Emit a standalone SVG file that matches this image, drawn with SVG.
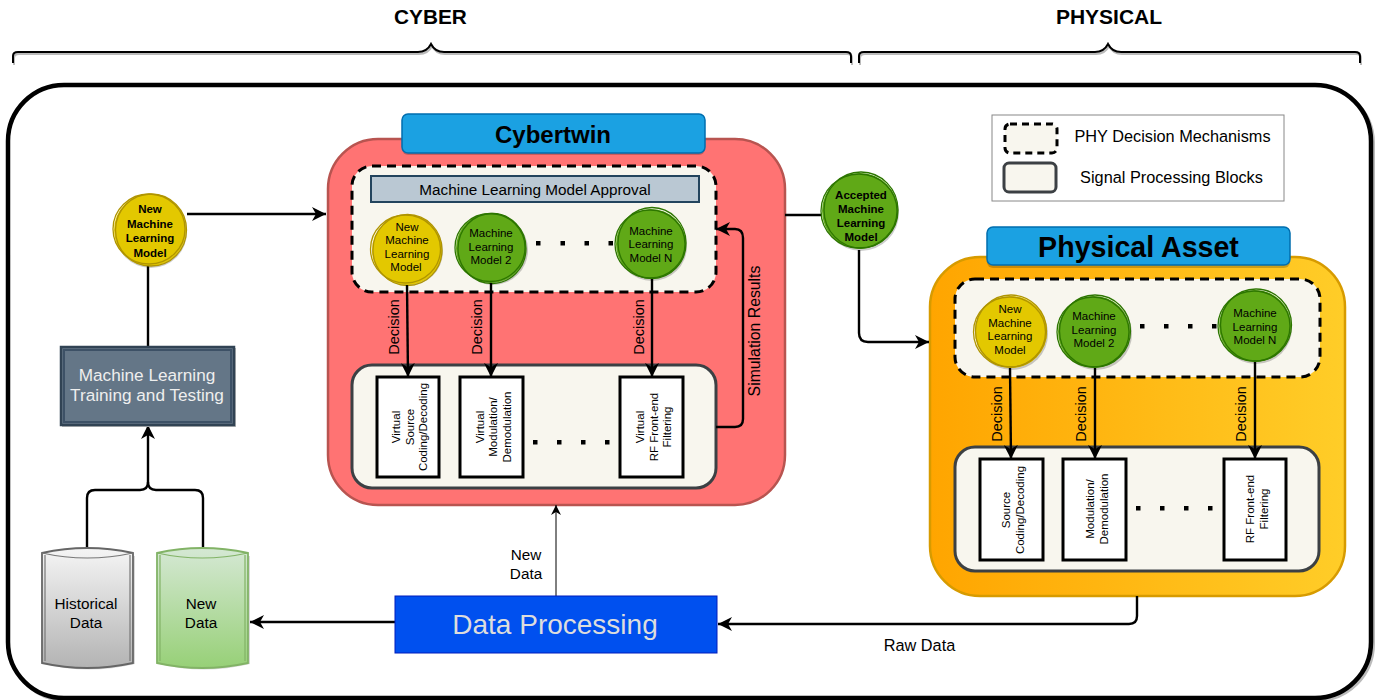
<svg xmlns="http://www.w3.org/2000/svg" width="1377" height="700" viewBox="0 0 1377 700">
<style>
text{font-family:"Liberation Sans",Arial,sans-serif;fill:#000;text-anchor:middle}
.ln{fill:none;stroke:#000;stroke-width:2.4;stroke-linejoin:round}
.ar{marker-end:url(#ah)}
.dash{fill:#f8f6ee;stroke:#000;stroke-width:3;stroke-dasharray:9 6}
.blk{fill:#f8f6ee;stroke:#3c4044;stroke-width:3}
.wb{fill:#fff;stroke:#000;stroke-width:3}
.tab{fill:#1ba1e2;stroke:#006eaf;stroke-width:1.5}
.sh{fill:#000;opacity:.2}
.y{fill:#e3c800}.ys{fill:none;stroke:#b09500;stroke-width:1.3}
.g{fill:#60a917}.gs{fill:none;stroke:#2d7600;stroke-width:1.3}
.t10{font-size:11.5px}.t14{font-size:14.5px}.t15{font-size:15.3px}.t16{font-size:16.3px}.t17{font-size:17.2px;fill:#eee}
.dot{fill:#000}
</style>
<defs>
<marker id="ah" markerUnits="userSpaceOnUse" markerWidth="16" markerHeight="14" refX="14" refY="7" orient="auto"><path d="M0 0L14 7L0 14L4 7Z" fill="#000"/></marker>
<marker id="as" markerUnits="userSpaceOnUse" markerWidth="12" markerHeight="10" refX="10" refY="5" orient="auto"><path d="M0 0L10 5L0 10L3 5Z" fill="#000"/></marker>
<linearGradient id="org" x1="0" x2="1" y1="0" y2="0"><stop offset="0" stop-color="#ffa500"/><stop offset="1" stop-color="#ffcd28"/></linearGradient>
<linearGradient id="gry" x1="0" x2="0" y1="0" y2="1"><stop offset="0" stop-color="#f5f5f5"/><stop offset="1" stop-color="#b3b3b3"/></linearGradient>
<linearGradient id="grn" x1="0" x2="0" y1="0" y2="1"><stop offset="0" stop-color="#d5e8d4"/><stop offset="1" stop-color="#97d077"/></linearGradient>
</defs>

<g id="braces" fill="none" stroke="#000" stroke-width="2">
<path d="M13 63V56Q13 52 18 52H418Q427 52 431 44Q435 52 444 52H846Q851 52 851 56V63" stroke="#bbb" transform="translate(1 2)"/>
<path d="M13 63V56Q13 52 18 52H418Q427 52 431 44Q435 52 444 52H846Q851 52 851 56V63"/>
<path d="M859 63V56Q859 52 864 52H1095Q1104 52 1108 44Q1112 52 1121 52H1355Q1360 52 1360 56V63" stroke="#bbb" transform="translate(1 2)"/>
<path d="M859 63V56Q859 52 864 52H1095Q1104 52 1108 44Q1112 52 1121 52H1355Q1360 52 1360 56V63"/>
</g>
<text x="430.500" y="24" font-size="20.800" font-weight="bold">CYBER</text>
<text x="1109" y="24" font-size="21" font-weight="bold">PHYSICAL</text>

<g id="frame">
<rect x="10" y="87" width="1363" height="613" rx="56" fill="none" stroke="#bbb" stroke-width="4"/>
<rect x="8" y="85" width="1363" height="613" rx="56" fill="#fff" stroke="#000" stroke-width="4.500"/>
</g>

<g id="cybertwin">
<rect x="328" y="139" width="457" height="366" rx="50" fill="#ff7373" stroke="#b85450" stroke-width="2.500"/>
<rect x="402" y="116" width="303" height="39" rx="6" class="sh"/>
<rect x="402" y="114" width="303" height="39" rx="6" class="tab"/>
<text x="553" y="143" font-size="24" font-weight="bold">Cybertwin</text>
</g>
<g id="phy-decision-cyber">
<rect x="352" y="166" width="364" height="126" rx="20" class="dash"/>
</g>
<g id="ml-approval">
<rect x="371" y="176" width="328" height="26" fill="#bac8d3" stroke="#23445d" stroke-width="2"/>
<text x="535" y="195" class="t15">Machine Learning Model Approval</text>
</g>
<g id="cyber-model-new">
<circle cx="408" cy="251" r="35" class="sh"/><circle cx="407" cy="250" r="35" class="y"/>
<ellipse cx="405.500" cy="249" rx="35" ry="34" class="ys"/><ellipse cx="407.500" cy="250" rx="34.500" ry="35.500" class="ys"/>
<text x="407" y="231" class="t10">New</text><text x="407" y="244" class="t10">Machine</text><text x="407" y="258" class="t10">Learning</text><text x="406" y="271" class="t10">Model</text>
</g>
<g id="cyber-model-2">
<circle cx="493" cy="250" r="35" class="sh"/><circle cx="491" cy="248" r="35" class="g"/>
<ellipse cx="490" cy="247.500" rx="35" ry="34" class="gs"/><ellipse cx="492" cy="248.500" rx="34" ry="35" class="gs"/>
<text x="491" y="237" class="t10">Machine</text><text x="491" y="251" class="t10">Learning</text><text x="491" y="264" class="t10">Model 2</text>
</g>
<g id="cyber-model-n">
<circle cx="652" cy="246" r="35" class="sh"/><circle cx="651" cy="244" r="35" class="g"/>
<ellipse cx="650" cy="244" rx="35" ry="34" class="gs"/><ellipse cx="652" cy="243" rx="34" ry="35.500" class="gs"/>
<text x="651" y="235" class="t10">Machine</text><text x="651" y="248" class="t10">Learning</text><text x="651" y="262" class="t10">Model N</text>
</g>
<g id="cyber-dots1" class="dot"><rect x="536" y="241" width="4.500" height="4.500"/><rect x="560.500" y="241" width="4.500" height="4.500"/><rect x="584.500" y="241" width="4.500" height="4.500"/><rect x="608.500" y="241" width="4.500" height="4.500"/></g>

<g id="cyber-blocks"><rect x="352" y="365" width="364" height="123" rx="20" class="blk"/></g>
<g id="v-source"><rect x="377" y="377" width="62" height="100" class="wb"/>
<g transform="translate(408 427) rotate(-90)" class="t10"><text y="-8">Virtual</text><text y="5.500">Source</text><text y="19">Coding/Decoding</text></g></g>
<g id="v-mod"><rect x="460" y="377" width="63" height="100" class="wb"/>
<g transform="translate(491 427) rotate(-90)" class="t10"><text y="-7.500">Virtual</text><text y="6">Modulation/</text><text y="20">Demodulation</text></g></g>
<g id="v-rf"><rect x="620" y="377" width="63" height="100" class="wb"/>
<g transform="translate(652 427) rotate(-90)" class="t10"><text y="-8">Virtual</text><text y="5.500">RF Front-end</text><text y="19">Filtering</text></g></g>
<g id="cyber-dots2" class="dot"><rect x="533" y="440" width="4.500" height="4.500"/><rect x="557" y="440" width="4.500" height="4.500"/><rect x="581" y="440" width="4.500" height="4.500"/><rect x="605" y="440" width="4.500" height="4.500"/></g>

<g id="physical">
<rect x="930" y="257" width="415" height="339" rx="50" fill="url(#org)" stroke="#d79b00" stroke-width="2.500"/>
<rect x="987" y="229" width="303" height="39" rx="6" class="sh"/>
<rect x="987" y="227" width="303" height="38" rx="6" class="tab"/>
<text x="1138.500" y="257" font-size="28.600" font-weight="bold">Physical Asset</text>
</g>
<g id="phy-decision"><rect x="955" y="279" width="365" height="98" rx="20" class="dash"/></g>
<g id="phy-model-new">
<circle cx="1012" cy="334" r="36" class="sh"/><circle cx="1011" cy="332" r="36" class="y"/>
<ellipse cx="1009.500" cy="332" rx="36" ry="35" class="ys"/><ellipse cx="1011" cy="331" rx="35.500" ry="36" class="ys"/>
<text x="1010" y="313" class="t10">New</text><text x="1010" y="327" class="t10">Machine</text><text x="1010" y="340" class="t10">Learning</text><text x="1010" y="354" class="t10">Model</text>
</g>
<g id="phy-model-2">
<circle cx="1096" cy="334" r="36" class="sh"/><circle cx="1094" cy="332" r="36" class="g"/>
<ellipse cx="1093" cy="332" rx="36" ry="35" class="gs"/><ellipse cx="1095" cy="331" rx="35.500" ry="36" class="gs"/>
<text x="1094" y="320" class="t10">Machine</text><text x="1094" y="334" class="t10">Learning</text><text x="1094" y="347" class="t10">Model 2</text>
</g>
<g id="phy-model-n">
<circle cx="1256" cy="328" r="36" class="sh"/><circle cx="1255" cy="326" r="36" class="g"/>
<ellipse cx="1254" cy="326" rx="36" ry="35" class="gs"/><ellipse cx="1256" cy="325" rx="35.500" ry="36" class="gs"/>
<text x="1255" y="317" class="t10">Machine</text><text x="1255" y="331" class="t10">Learning</text><text x="1255" y="344" class="t10">Model N</text>
</g>
<g id="phy-dots1" class="dot"><rect x="1140" y="324" width="4.500" height="4.500"/><rect x="1164" y="324" width="4.500" height="4.500"/><rect x="1188" y="324" width="4.500" height="4.500"/><rect x="1212" y="324" width="4.500" height="4.500"/></g>

<g id="phy-blocks"><rect x="955" y="447" width="364" height="124" rx="20" class="blk"/></g>
<g id="source"><rect x="980" y="459" width="63" height="101" class="wb"/>
<g transform="translate(1011 510) rotate(-90)" class="t10"><text y="-1">Source</text><text y="13">Coding/Decoding</text></g></g>
<g id="mod"><rect x="1063" y="459" width="63" height="101" class="wb"/>
<g transform="translate(1095 509) rotate(-90)" class="t10"><text y="-1">Modulation/</text><text y="13">Demodulation</text></g></g>
<g id="rf"><rect x="1224" y="459" width="62" height="101" class="wb"/>
<g transform="translate(1255 509) rotate(-90)" class="t10"><text y="-1">RF Front-end</text><text y="13">Filtering</text></g></g>
<g id="phy-dots2" class="dot"><rect x="1136" y="506" width="4.500" height="4.500"/><rect x="1160" y="506" width="4.500" height="4.500"/><rect x="1184" y="506" width="4.500" height="4.500"/><rect x="1208" y="506" width="4.500" height="4.500"/></g>

<g id="legend">
<rect x="992" y="115" width="292" height="86" fill="#fff" stroke="#888" stroke-width="1"/>
<rect x="1005" y="124" width="52" height="29" rx="5" class="dash" style="stroke-dasharray:7 5"/>
<rect x="1004" y="163" width="52" height="29" rx="5" class="blk"/>
<text x="1172.500" y="142" class="t16">PHY Decision Mechanisms</text>
<text x="1171.500" y="183" class="t16">Signal Processing Blocks</text>
</g>

<g id="connectors">
<path class="ln ar" d="M187 214H326"/>
<path class="ln" d="M148 266V346"/>
<path class="ln ar" d="M87 548V498Q87 490 95 490H140Q148 490 148 482V425"/>
<path class="ln" d="M203 548V498Q203 490 195 490H156Q148 490 148 482"/>
<path class="ln" d="M785 215H822"/>
<path class="ln ar" d="M859 250V333Q859 342 868 342H929"/>
<path class="ln ar" d="M716 427H735Q743 427 743 419V238Q743 229 735 229H716"/>
<path class="ln ar" d="M1137 596V616Q1137 624 1129 624H718"/>
<path class="ln ar" d="M395 622H250"/>
<path d="M556 596V505" fill="none" stroke="#000" stroke-width="1" marker-end="url(#as)"/>
<path class="ln ar" d="M407 285L408 377"/>
<path class="ln ar" d="M491 283L491 377"/>
<path class="ln ar" d="M652 279V377"/>
<path class="ln ar" d="M1010 368L1011 459"/>
<path class="ln ar" d="M1095 368V459"/>
<path class="ln ar" d="M1255 362V459"/>
</g>
<g id="connector-labels" class="t14">
<text transform="translate(399 327) rotate(-90)">Decision</text>
<text transform="translate(482 327) rotate(-90)">Decision</text>
<text transform="translate(644 327) rotate(-90)">Decision</text>
<text transform="translate(1002 414) rotate(-90)">Decision</text>
<text transform="translate(1086 414) rotate(-90)">Decision</text>
<text transform="translate(1246 414) rotate(-90)">Decision</text>
<text transform="translate(760 331) rotate(-90)" style="font-size:15.800px">Simulation Results</text>
<text x="526" y="560" class="t15">New</text><text x="526" y="579" class="t15">Data</text>
<text x="919.500" y="651" class="t16">Raw Data</text>
</g>

<g id="new-model">
<circle cx="151" cy="232" r="36" class="sh"/><circle cx="150" cy="230" r="36" class="y"/>
<ellipse cx="149" cy="229" rx="36" ry="35" class="ys"/><ellipse cx="151" cy="230" rx="35.500" ry="36" class="ys"/>
<g font-size="11.500" font-weight="bold"><text x="150" y="213">New</text><text x="150" y="228">Machine</text><text x="150" y="242">Learning</text><text x="150" y="257">Model</text></g>
</g>
<g id="training">
<rect x="62" y="348" width="174" height="79" fill="#bbb"/>
<rect x="61" y="347" width="173" height="78" fill="#647687" stroke="#314354" stroke-width="2.500"/>
<rect x="64" y="350" width="167" height="72" fill="none" stroke="#3d5166" stroke-width="2"/>
<text x="147" y="381" class="t17">Machine Learning</text>
<text x="147" y="401" class="t17">Training and Testing</text>
</g>
<g id="accepted">
<circle cx="861" cy="213" r="38" class="sh"/><circle cx="860" cy="211" r="38" class="g"/>
<ellipse cx="859" cy="211" rx="38" ry="37" class="gs"/><ellipse cx="861" cy="210" rx="37" ry="38" class="gs"/>
<g font-size="11.500" font-weight="bold"><text x="861" y="199">Accepted</text><text x="861" y="213">Machine</text><text x="861" y="227">Learning</text><text x="861" y="241">Model</text></g>
</g>
<g id="historical">
<path d="M44 556V664Q89 675 135 664V556Z" fill="#000" opacity=".15"/>
<path d="M42 553V663Q87 673 133 663V553Q87 543 42 553Z" fill="url(#gry)" stroke="#666" stroke-width="1.800"/>
<path d="M42 553Q87 563 133 553M45 555V661M130 555V661" fill="none" stroke="#777" stroke-width="1.200"/>
<text x="86" y="609" class="t15">Historical</text><text x="86" y="628" class="t15">Data</text>
</g>
<g id="newdata">
<path d="M159 556V664Q204 675 250 664V556Z" fill="#000" opacity=".15"/>
<path d="M157 553V663Q202 673 248 663V553Q202 543 157 553Z" fill="url(#grn)" stroke="#82b366" stroke-width="1.800"/>
<path d="M157 553Q202 563 248 553M160 555V661M245 555V661" fill="none" stroke="#82b366" stroke-width="1.200"/>
<text x="201" y="609" class="t15">New</text><text x="201" y="628" class="t15">Data</text>
</g>
<g id="data-processing">
<rect x="395" y="596" width="322" height="57" fill="#0050ef" stroke="#001dbc" stroke-width="1"/>
<text x="555" y="634" font-size="28" style="fill:#ddd">Data Processing</text>
</g>
</svg>
